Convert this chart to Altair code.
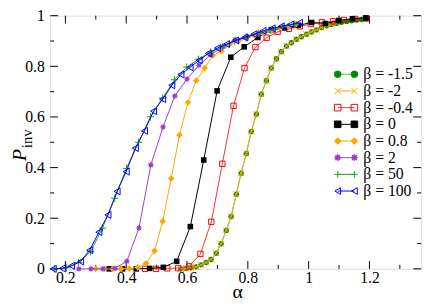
import math
import altair as alt
import pandas as pd

# ---------------- data ----------------
labels = ["β = -1.5", "β = -2", "β = -0.4", "β = 0", "β = 0.8", "β = 2", "β = 50", "β = 100"]

alpha_m15 = [0.580, 0.597, 0.613, 0.630, 0.646, 0.663, 0.679, 0.696, 0.712, 0.729, 0.745, 0.762,
             0.778, 0.795, 0.811, 0.828, 0.844, 0.861, 0.877, 0.894, 0.910, 0.927, 0.943, 0.960,
             0.976, 0.993, 1.009, 1.026, 1.042, 1.059, 1.075, 1.092, 1.108, 1.125, 1.141, 1.158,
             1.174, 1.190]
p_m15 = [0.000, 0.002, 0.004, 0.008, 0.016, 0.025, 0.037, 0.062, 0.099, 0.152, 0.207, 0.295,
         0.378, 0.455, 0.542, 0.611, 0.690, 0.743, 0.793, 0.830, 0.858, 0.880, 0.893, 0.907,
         0.917, 0.927, 0.936, 0.944, 0.953, 0.960, 0.966, 0.970, 0.974, 0.977, 0.980, 0.983,
         0.985, 0.987]

alpha_m2 = [0.580, 0.597, 0.613, 0.630, 0.646, 0.663, 0.679, 0.696, 0.712, 0.729, 0.745, 0.762,
            0.778, 0.795, 0.811, 0.828, 0.844, 0.861, 0.877, 0.894, 0.910, 0.927, 0.943, 0.960,
            0.976, 0.993, 1.009, 1.026, 1.042, 1.059, 1.075, 1.092]
p_m2 = [0.000, 0.002, 0.004, 0.008, 0.016, 0.025, 0.037, 0.062, 0.099, 0.152, 0.207, 0.295,
        0.378, 0.455, 0.542, 0.611, 0.690, 0.743, 0.793, 0.830, 0.858, 0.880, 0.893, 0.907,
        0.917, 0.927, 0.936, 0.944, 0.953, 0.960, 0.966, 0.970]

alpha_m04 = [0.462, 0.498, 0.535, 0.571, 0.607, 0.644, 0.680, 0.716, 0.753, 0.789, 0.825, 0.862,
             0.898, 0.935, 0.971, 1.007, 1.044, 1.080, 1.116, 1.153, 1.189]
p_m04 = [0.000, 0.000, 0.002, 0.003, 0.010, 0.059, 0.186, 0.415, 0.644, 0.793, 0.876, 0.913,
         0.936, 0.948, 0.958, 0.967, 0.974, 0.978, 0.983, 0.987, 0.990]

alpha_0 = [0.344, 0.388, 0.433, 0.477, 0.522, 0.566, 0.611, 0.655, 0.699, 0.744, 0.788, 0.833,
           0.877, 0.921, 0.966, 1.010, 1.055, 1.099, 1.144, 1.188]
p_0 = [0.000, 0.000, 0.000, 0.002, 0.006, 0.030, 0.167, 0.430, 0.703, 0.836, 0.877, 0.914,
       0.944, 0.952, 0.962, 0.973, 0.969, 0.981, 0.988, 0.991]

alpha_08 = [0.300, 0.328, 0.355, 0.383, 0.410, 0.438, 0.465, 0.493, 0.520, 0.548, 0.575, 0.603,
            0.630, 0.658, 0.685, 0.713, 0.740, 0.768, 0.795, 0.823, 0.850, 0.878, 0.905, 0.933,
            0.960]
p_08 = [0.000, 0.000, 0.000, 0.000, 0.001, 0.006, 0.021, 0.071, 0.188, 0.357, 0.529, 0.657,
        0.743, 0.793, 0.843, 0.860, 0.886, 0.898, 0.910, 0.922, 0.932, 0.942, 0.952, 0.960,
        0.968]

alpha_2 = [0.244, 0.284, 0.323, 0.363, 0.402, 0.442, 0.481, 0.521, 0.560, 0.600, 0.639, 0.679,
           0.718, 0.758, 0.797, 0.837]
p_2 = [0.000, 0.000, 0.000, 0.002, 0.030, 0.161, 0.410, 0.560, 0.683, 0.750, 0.804, 0.846,
       0.877, 0.905, 0.918, 0.930]

alpha_50 = [0.164, 0.204, 0.243, 0.283, 0.322, 0.362, 0.401, 0.441, 0.480, 0.520, 0.559, 0.599,
            0.638, 0.678, 0.717, 0.757, 0.796, 0.836, 0.875, 0.915, 0.954]
p_50 = [0.000, 0.004, 0.025, 0.068, 0.161, 0.279, 0.397, 0.500, 0.601, 0.675, 0.747, 0.797,
        0.828, 0.856, 0.877, 0.899, 0.915, 0.930, 0.944, 0.955, 0.966]

alpha_100 = [0.16, 0.19, 0.22, 0.25, 0.28, 0.31, 0.34, 0.37, 0.40, 0.43, 0.46, 0.49, 0.52, 0.55,
             0.58, 0.61, 0.64, 0.67, 0.70, 0.73, 0.76, 0.79, 0.82, 0.85, 0.88, 0.91, 0.94, 0.97]
p_100 = [0.000, 0.002, 0.012, 0.029, 0.074, 0.145, 0.213, 0.306, 0.384, 0.477, 0.545, 0.623,
         0.670, 0.725, 0.768, 0.796, 0.824, 0.851, 0.872, 0.888, 0.902, 0.914, 0.927, 0.940,
         0.950, 0.958, 0.965, 0.972]

x_major = [0.2, 0.4, 0.6, 0.8, 1.0, 1.2]
x_minor = [0.3, 0.5, 0.7, 0.9, 1.1, 1.3]
y_major = [0.0, 0.2, 0.4, 0.6, 0.8, 1.0]
y_minor = [0.1, 0.3, 0.5, 0.7, 0.9]

# ---------------- styling ----------------
W, H = 378, 258
FONT = "Liberation Serif, Times New Roman, serif"

def star_path(n=8, r_in=0.55):
    pts = []
    for i in range(2 * n):
        r = 1.0 if i % 2 == 0 else r_in
        a = math.pi * i / n - math.pi / 2
        pts.append(f"{r * math.cos(a):.3f},{r * math.sin(a):.3f}")
    return "M" + "L".join(pts) + "Z"

X_PATH = "M-1,-1L1,1M-1,1L1,-1"
PLUS_PATH = "M-1,0L1,0M0,-1L0,1"
STAR_PATH = star_path()

# (label, alpha, p, marker colour, line colour, shape, filled, size)
series = [
    (labels[0], alpha_m15, p_m15, "#008a00", "#4cb84c", "circle", True, 30),
    (labels[1], alpha_m2, p_m2, "#ffa500", "#e8a830", X_PATH, False, 40),
    (labels[2], alpha_m04, p_m04, "#ff0000", "#ff3030", "square", False, 30),
    (labels[3], alpha_0, p_0, "#000000", "#000000", "square", True, 32),
    (labels[4], alpha_08, p_08, "#ffa500", "#ffa500", "diamond", True, 45),
    (labels[5], alpha_2, p_2, "#9a40d0", "#9a40d0", STAR_PATH, True, 50),
    (labels[6], alpha_50, p_50, "#1e9e1e", "#1e9e1e", PLUS_PATH, False, 56),
    (labels[7], alpha_100, p_100, "#0000ff", "#0000ff", "triangle-left", False, 50),
]

xs = alt.Scale(domain=[0.15, 1.37], nice=False, zero=False)
ys = alt.Scale(domain=[0, 1], nice=False, zero=False)
X_AX = alt.Axis(values=x_major, format="~g", title=None, ticks=False, domain=False, grid=False,
                labelFont=FONT, labelFontSize=16, labelColor="black", labelPadding=1)
Y_AX = alt.Axis(values=y_major, format="~g", title=None, ticks=False, domain=False, grid=False,
                labelFont=FONT, labelFontSize=16, labelColor="black", labelPadding=6)

def X(field):
    return alt.X(field, scale=xs, axis=X_AX)

def Y(field):
    return alt.Y(field, scale=ys, axis=Y_AX)

layers = []

# tick marks (inward, on all four sides)
for vals, length, kind in [(x_major, 8, "x"), (x_minor, 4, "x"), (y_major, 8, "y"), (y_minor, 4, "y")]:
    d = pd.DataFrame({"v": vals})
    if kind == "x":
        layers.append(alt.Chart(d).mark_rule(color="black", strokeWidth=1).encode(
            x=X("v:Q"), y=alt.value(H), y2=alt.value(H - length)))
        layers.append(alt.Chart(d).mark_rule(color="black", strokeWidth=1).encode(
            x=X("v:Q"), y=alt.value(0), y2=alt.value(length)))
    else:
        layers.append(alt.Chart(d).mark_rule(color="black", strokeWidth=1).encode(
            y=Y("v:Q"), x=alt.value(0), x2=alt.value(length)))
        layers.append(alt.Chart(d).mark_rule(color="black", strokeWidth=1).encode(
            y=Y("v:Q"), x=alt.value(W), x2=alt.value(W - length)))

for lab, a, p, mc, lc, shp, filled, size in series:
    d = pd.DataFrame({"alpha": a, "P": p})
    base = alt.Chart(d)
    layers.append(base.mark_line(color=lc, strokeWidth=1).encode(x=X("alpha:Q"), y=Y("P:Q")))
    if filled:
        pm = base.mark_point(shape=shp, size=size, filled=True, color=mc, opacity=1)
    else:
        pm = base.mark_point(shape=shp, size=size, filled=False, color=mc, opacity=1,
                             strokeWidth=1)
    layers.append(pm.encode(x=X("alpha:Q"), y=Y("P:Q")))

# axis titles
tP = pd.DataFrame({"t": ["P"]})
tI = pd.DataFrame({"t": ["inv"]})
tA = pd.DataFrame({"t": ["α"]})
layers.append(alt.Chart(tP).mark_text(font=FONT, fontSize=20, fontStyle="italic", angle=270,
                                      align="left", baseline="alphabetic", color="black").encode(
    x=alt.value(-25), y=alt.value(148), text="t:N"))
layers.append(alt.Chart(tI).mark_text(font=FONT, fontSize=15, angle=270,
                                      align="left", baseline="alphabetic", color="black").encode(
    x=alt.value(-19), y=alt.value(135), text="t:N"))
layers.append(alt.Chart(tA).mark_text(font=FONT, fontSize=20, align="center",
                                      baseline="alphabetic", color="black").encode(
    x=alt.value(191), y=alt.value(288), text="t:N"))

main = alt.layer(*layers)

# legend
leg = pd.DataFrame({"label": labels})
leg_y = alt.Y("label:N", scale=alt.Scale(type="point", domain=labels, range=[59.7, 178.7], padding=0),
              axis=None)
mcols = [s[3] for s in series]
lcols = [s[4] for s in series]
shapes = [s[5] for s in series]
fills = [s[3] if s[6] else "transparent" for s in series]

lrule = alt.Chart(leg).mark_rule(strokeWidth=1).encode(
    x=alt.value(293), x2=alt.value(310), y=leg_y,
    color=alt.Color("label:N", scale=alt.Scale(domain=labels, range=lcols), legend=None))
lpts = []
for xv in (293, 310):
    lpts.append(alt.Chart(leg).mark_point(size=45, opacity=1, strokeWidth=1).encode(
        x=alt.value(xv), y=leg_y,
        shape=alt.Shape("label:N", scale=alt.Scale(domain=labels, range=shapes), legend=None),
        stroke=alt.Stroke("label:N", scale=alt.Scale(domain=labels, range=mcols), legend=None),
        fill=alt.Fill("label:N", scale=alt.Scale(domain=labels, range=fills), legend=None)))
ltext = alt.Chart(leg).mark_text(align="left", baseline="middle", font=FONT, fontSize=16,
                                 color="black").encode(x=alt.value(319), y=leg_y, text="label:N")
legend = alt.layer(lrule, *lpts, ltext)

chart = alt.layer(main, legend).resolve_scale(y="independent").properties(
    width=W, height=H,
    padding={"left": 43, "top": 5, "right": 7, "bottom": 35},
    autosize=alt.AutoSizeParams(type="none"),
).configure_view(stroke="black", strokeWidth=1).configure(background="white")

chart.save("out.html", embed_options={"renderer": "svg", "actions": False})
